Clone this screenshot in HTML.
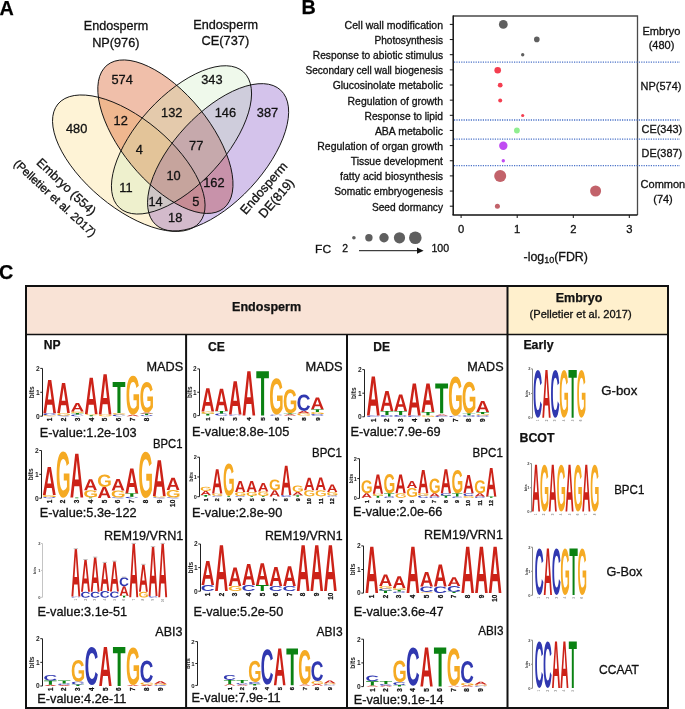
<!DOCTYPE html>
<html><head><meta charset="utf-8"><style>html,body{margin:0;padding:0;background:#fff;overflow:hidden}svg{display:block;will-change:transform}text{font-family:"Liberation Sans",sans-serif}text{stroke:#111;stroke-width:0.3px}text[font-weight]{stroke-width:0.25px}.n{stroke:none}.m{stroke-width:0.15px}</style></head><body>
<svg width="685" height="709" viewBox="0 0 685 709">
<defs>
<path id="gA" d="M0.7875 1 0.6965 0.7445H0.3057L0.2147 1H0L0.3741 0H0.6274L1 1ZM0.5007 0.154 0.4964 0.1696Q0.4891 0.1952 0.4789 0.2278Q0.4687 0.2605 0.3537 0.5869H0.6485L0.5473 0.2995L0.516 0.203Z"/>
<path id="gC" d="M0.531 0.84Q0.7304 0.84 0.8081 0.6552L1 0.7221Q0.938 0.8628 0.8181 0.9314Q0.6983 1 0.531 1Q0.2771 1 0.1385 0.8672Q0 0.7345 0 0.4959Q0 0.2566 0.1337 0.1283Q0.2674 0 0.5213 0Q0.7065 0 0.823 0.0686Q0.9395 0.1372 0.9866 0.2703L0.7924 0.3193Q0.7677 0.2462 0.6957 0.2031Q0.6236 0.16 0.5258 0.16Q0.3764 0.16 0.2991 0.2455Q0.2218 0.331 0.2218 0.4959Q0.2218 0.6634 0.3013 0.7517Q0.3809 0.84 0.531 0.84Z"/>
<path id="gG" d="M0.5224 0.8407Q0.6056 0.8407 0.6838 0.8176Q0.7619 0.7945 0.8046 0.7586V0.6241H0.5557V0.4738H1V0.831Q0.919 0.9103 0.7891 0.9552Q0.6592 1 0.5166 1Q0.2677 1 0.1339 0.8686Q0 0.7372 0 0.4959Q0 0.2559 0.1346 0.1279Q0.2692 0 0.5217 0Q0.8806 0 0.9783 0.2531L0.7815 0.3097Q0.7496 0.2359 0.6816 0.1979Q0.6136 0.16 0.5217 0.16Q0.3712 0.16 0.2931 0.2469Q0.2149 0.3338 0.2149 0.4959Q0.2149 0.6607 0.2956 0.7507Q0.3763 0.8407 0.5224 0.8407Z"/>
<path id="gT" d="M0.6219 0.1618V1H0.3773V0.1618H0V0H1V0.1618Z"/>
</defs>
<rect width="685" height="709" fill="#fff"/>
<text x="-0.50" y="14.70" font-size="19.80" font-weight="bold">A</text>
<text x="301.60" y="13.70" font-size="19.80" font-weight="bold">B</text>
<text x="-1.00" y="279.30" font-size="19.80" font-weight="bold">C</text>
<g>
<ellipse cx="0" cy="0" rx="92.30" ry="44.20" transform="translate(128.80 163.20) rotate(39.90)" fill="#FBCB54" fill-opacity="0.240"/>
<ellipse cx="0" cy="0" rx="92.30" ry="44.10" transform="translate(165.40 136.70) rotate(50.80)" fill="#D44B0D" fill-opacity="0.352"/>
<ellipse cx="0" cy="0" rx="91.80" ry="44.50" transform="translate(218.10 157.30) rotate(-47.00)" fill="#4A00AB" fill-opacity="0.237"/>
<ellipse cx="0" cy="0" rx="92.00" ry="44.10" transform="translate(181.50 139.90) rotate(-47.60)" fill="#C4EAB3" fill-opacity="0.266"/>
<ellipse cx="0" cy="0" rx="92.30" ry="44.20" transform="translate(128.80 163.20) rotate(39.90)" fill="none" stroke="#111" stroke-width="0.9"/>
<ellipse cx="0" cy="0" rx="92.30" ry="44.10" transform="translate(165.40 136.70) rotate(50.80)" fill="none" stroke="#111" stroke-width="0.9"/>
<ellipse cx="0" cy="0" rx="92.00" ry="44.10" transform="translate(181.50 139.90) rotate(-47.60)" fill="none" stroke="#111" stroke-width="0.9"/>
<ellipse cx="0" cy="0" rx="91.80" ry="44.50" transform="translate(218.10 157.30) rotate(-47.00)" fill="none" stroke="#111" stroke-width="0.9"/>
<text x="122.10" y="83.90" font-size="12.80" text-anchor="middle" fill="#111">574</text>
<text x="211.90" y="84.00" font-size="12.80" text-anchor="middle" fill="#111">343</text>
<text x="76.60" y="132.60" font-size="12.80" text-anchor="middle" fill="#111">480</text>
<text x="267.50" y="117.30" font-size="12.80" text-anchor="middle" fill="#111">387</text>
<text x="120.70" y="124.80" font-size="12.80" text-anchor="middle" fill="#111">12</text>
<text x="171.80" y="116.60" font-size="12.80" text-anchor="middle" fill="#111">132</text>
<text x="139.30" y="153.70" font-size="12.80" text-anchor="middle" fill="#111">4</text>
<text x="225.40" y="117.30" font-size="12.80" text-anchor="middle" fill="#111">146</text>
<text x="196.20" y="150.10" font-size="12.80" text-anchor="middle" fill="#111">77</text>
<text x="173.60" y="180.20" font-size="12.80" text-anchor="middle" fill="#111">10</text>
<text x="126.00" y="192.30" font-size="12.80" text-anchor="middle" fill="#111">11</text>
<text x="155.50" y="205.80" font-size="12.80" text-anchor="middle" fill="#111">14</text>
<text x="175.20" y="221.60" font-size="12.80" text-anchor="middle" fill="#111">18</text>
<text x="195.80" y="205.80" font-size="12.80" text-anchor="middle" fill="#111">5</text>
<text x="213.90" y="187.10" font-size="12.80" text-anchor="middle" fill="#111">162</text>
<text x="116.00" y="29.60" font-size="12.60" text-anchor="middle" textLength="64.3" lengthAdjust="spacingAndGlyphs" fill="#111">Endosperm</text>
<text x="115.80" y="46.60" font-size="12.60" text-anchor="middle" textLength="47.3" lengthAdjust="spacingAndGlyphs" fill="#111">NP(976)</text>
<text x="225.60" y="28.50" font-size="12.60" text-anchor="middle" textLength="64.8" lengthAdjust="spacingAndGlyphs" fill="#111">Endosperm</text>
<text x="225.40" y="45.00" font-size="12.60" text-anchor="middle" textLength="47.6" lengthAdjust="spacingAndGlyphs" fill="#111">CE(737)</text>
<g transform="translate(66.5 186.6) rotate(43.5)"><text x="0" y="4.4" font-size="12.6" text-anchor="middle" fill="#111">Embryo (554)</text></g>
<g transform="translate(55.1 198.0) rotate(42.8)"><text x="0" y="4.1" font-size="11.6" text-anchor="middle" fill="#111">(Pelletier et al. 2017)</text></g>
<g transform="translate(263.6 188.0) rotate(-49.0)"><text x="0" y="4.4" font-size="12.6" text-anchor="middle" fill="#111">Endosperm</text></g>
<g transform="translate(276.2 198.0) rotate(-49.5)"><text x="0" y="4.4" font-size="12.6" text-anchor="middle" fill="#111">DE(819)</text></g>
</g>
<g>
<text x="443.00" y="28.80" font-size="10.20" text-anchor="end" textLength="98.4" lengthAdjust="spacingAndGlyphs" fill="#111">Cell wall modification</text>
<line x1="449.8" y1="24.40" x2="453" y2="24.40" stroke="#111" stroke-width="1"/>
<text x="443.00" y="43.95" font-size="10.20" text-anchor="end" textLength="68.6" lengthAdjust="spacingAndGlyphs" fill="#111">Photosynthesis</text>
<line x1="449.8" y1="39.55" x2="453" y2="39.55" stroke="#111" stroke-width="1"/>
<text x="443.00" y="59.10" font-size="10.20" text-anchor="end" textLength="130.2" lengthAdjust="spacingAndGlyphs" fill="#111">Response to abiotic stimulus</text>
<line x1="449.8" y1="54.70" x2="453" y2="54.70" stroke="#111" stroke-width="1"/>
<text x="443.00" y="74.25" font-size="10.20" text-anchor="end" textLength="137.6" lengthAdjust="spacingAndGlyphs" fill="#111">Secondary cell wall biogenesis</text>
<line x1="449.8" y1="69.85" x2="453" y2="69.85" stroke="#111" stroke-width="1"/>
<text x="443.00" y="89.40" font-size="10.20" text-anchor="end" textLength="110.3" lengthAdjust="spacingAndGlyphs" fill="#111">Glucosinolate metabolic</text>
<line x1="449.8" y1="85.00" x2="453" y2="85.00" stroke="#111" stroke-width="1"/>
<text x="443.00" y="104.55" font-size="10.20" text-anchor="end" textLength="95.4" lengthAdjust="spacingAndGlyphs" fill="#111">Regulation of growth</text>
<line x1="449.8" y1="100.15" x2="453" y2="100.15" stroke="#111" stroke-width="1"/>
<text x="443.00" y="119.70" font-size="10.20" text-anchor="end" textLength="78.5" lengthAdjust="spacingAndGlyphs" fill="#111">Response to lipid</text>
<line x1="449.8" y1="115.30" x2="453" y2="115.30" stroke="#111" stroke-width="1"/>
<text x="443.00" y="134.85" font-size="10.20" text-anchor="end" textLength="68.1" lengthAdjust="spacingAndGlyphs" fill="#111">ABA metabolic</text>
<line x1="449.8" y1="130.45" x2="453" y2="130.45" stroke="#111" stroke-width="1"/>
<text x="443.00" y="150.00" font-size="10.20" text-anchor="end" textLength="125.7" lengthAdjust="spacingAndGlyphs" fill="#111">Regulation of organ growth</text>
<line x1="449.8" y1="145.60" x2="453" y2="145.60" stroke="#111" stroke-width="1"/>
<text x="443.00" y="165.15" font-size="10.20" text-anchor="end" textLength="92.2" lengthAdjust="spacingAndGlyphs" fill="#111">Tissue development</text>
<line x1="449.8" y1="160.75" x2="453" y2="160.75" stroke="#111" stroke-width="1"/>
<text x="443.00" y="180.30" font-size="10.20" text-anchor="end" textLength="102.9" lengthAdjust="spacingAndGlyphs" fill="#111">fatty acid biosynthesis</text>
<line x1="449.8" y1="175.90" x2="453" y2="175.90" stroke="#111" stroke-width="1"/>
<text x="443.00" y="195.45" font-size="10.20" text-anchor="end" textLength="108.8" lengthAdjust="spacingAndGlyphs" fill="#111">Somatic embryogenesis</text>
<line x1="449.8" y1="191.05" x2="453" y2="191.05" stroke="#111" stroke-width="1"/>
<text x="443.00" y="210.60" font-size="10.20" text-anchor="end" textLength="71.1" lengthAdjust="spacingAndGlyphs" fill="#111">Seed dormancy</text>
<line x1="449.8" y1="206.20" x2="453" y2="206.20" stroke="#111" stroke-width="1"/>
<path d="M453 16 H637.5 V215" fill="none" stroke="#4A4A4A" stroke-width="1.3"/>
<line x1="453.2" y1="15.5" x2="453.2" y2="215" stroke="#111" stroke-width="1.5"/>
<line x1="452.5" y1="215.0" x2="637.5" y2="215.0" stroke="#111" stroke-width="1.7"/>
<line x1="461.1" y1="215" x2="461.1" y2="218" stroke="#111" stroke-width="1"/>
<text x="461.10" y="232.50" font-size="11.20" text-anchor="middle" fill="#111">0</text>
<line x1="517.2" y1="215" x2="517.2" y2="218" stroke="#111" stroke-width="1"/>
<text x="517.20" y="232.50" font-size="11.20" text-anchor="middle" fill="#111">1</text>
<line x1="573.3" y1="215" x2="573.3" y2="218" stroke="#111" stroke-width="1"/>
<text x="573.30" y="232.50" font-size="11.20" text-anchor="middle" fill="#111">2</text>
<line x1="629.3" y1="215" x2="629.3" y2="218" stroke="#111" stroke-width="1"/>
<text x="629.30" y="232.50" font-size="11.20" text-anchor="middle" fill="#111">3</text>
<text x="523.5" y="260.5" font-size="12.4" fill="#111">-log<tspan font-size="9" dy="2">10</tspan><tspan dy="-2">(FDR)</tspan></text>
<line x1="454" y1="62.1" x2="680" y2="62.1" stroke="#4A72C8" stroke-width="1.3" stroke-dasharray="1.2 1.2"/>
<line x1="454" y1="120.0" x2="680" y2="120.0" stroke="#4A72C8" stroke-width="1.3" stroke-dasharray="1.2 1.2"/>
<line x1="454" y1="139.1" x2="680" y2="139.1" stroke="#4A72C8" stroke-width="1.3" stroke-dasharray="1.2 1.2"/>
<line x1="454" y1="165.7" x2="680" y2="165.7" stroke="#4A72C8" stroke-width="1.3" stroke-dasharray="1.2 1.2"/>
<circle cx="503.3" cy="24.4" r="4.4" fill="#5F5F5F"/>
<circle cx="536.8" cy="39.4" r="2.8" fill="#5F5F5F"/>
<circle cx="522.7" cy="54.7" r="1.7" fill="#5F5F5F"/>
<circle cx="497.7" cy="70.2" r="3.3" fill="#F43E50"/>
<circle cx="500.2" cy="85.2" r="2.4" fill="#F43E50"/>
<circle cx="500.2" cy="100.4" r="2.0" fill="#F43E50"/>
<circle cx="522.7" cy="115.5" r="1.6" fill="#F43E50"/>
<circle cx="516.9" cy="130.5" r="2.9" fill="#90EE90"/>
<circle cx="503.3" cy="145.8" r="4.2" fill="#C04CF2"/>
<circle cx="503.3" cy="160.7" r="1.7" fill="#C04CF2"/>
<circle cx="500.2" cy="176.0" r="6.0" fill="#C2626A"/>
<circle cx="595.6" cy="191.0" r="5.5" fill="#C2626A"/>
<circle cx="497.4" cy="206.2" r="2.5" fill="#C2626A"/>
<text x="661.50" y="34.90" font-size="11.00" text-anchor="middle" textLength="38.0" lengthAdjust="spacingAndGlyphs" fill="#111">Embryo</text>
<text x="661.50" y="49.00" font-size="11.00" text-anchor="middle" fill="#111">(480)</text>
<text x="661.00" y="90.00" font-size="11.00" text-anchor="middle" textLength="40.8" lengthAdjust="spacingAndGlyphs" fill="#111">NP(574)</text>
<text x="661.90" y="132.90" font-size="11.00" text-anchor="middle" textLength="40.6" lengthAdjust="spacingAndGlyphs" fill="#111">CE(343)</text>
<text x="661.90" y="157.40" font-size="11.00" text-anchor="middle" textLength="40.6" lengthAdjust="spacingAndGlyphs" fill="#111">DE(387)</text>
<text x="640.60" y="188.40" font-size="11.00" fill="#111">Common</text>
<text x="663.00" y="203.10" font-size="11.00" text-anchor="middle" fill="#111">(74)</text>
<text x="315.10" y="252.70" font-size="11.60" textLength="16.0" lengthAdjust="spacingAndGlyphs" fill="#111">FC</text>
<text x="345.20" y="252.20" font-size="10.40" text-anchor="middle" fill="#111">2</text>
<circle cx="353.9" cy="237.8" r="1.8" fill="#5F5F5F"/>
<circle cx="368.9" cy="237.8" r="3.7" fill="#5F5F5F"/>
<circle cx="384.0" cy="237.8" r="4.7" fill="#5F5F5F"/>
<circle cx="399.5" cy="237.8" r="5.6" fill="#5F5F5F"/>
<circle cx="415.3" cy="237.8" r="6.3" fill="#5F5F5F"/>
<line x1="359" y1="250.7" x2="418" y2="250.7" stroke="#111" stroke-width="1"/>
<path d="M417 247.6 L423.6 250.7 L417 253.8 Z" fill="#111"/>
<text x="440.30" y="252.20" font-size="10.60" text-anchor="middle" fill="#111">100</text>
</g>
<rect x="26" y="286" width="481.5" height="48.5" fill="#F9E3D6"/>
<rect x="507.5" y="286" width="160.5" height="48.5" fill="#FFF0CD"/>
<g stroke="#111" fill="none">
<rect x="26" y="286" width="642" height="422" stroke-width="2"/>
<line x1="25" y1="334.5" x2="669" y2="334.5" stroke-width="1.6"/>
<line x1="186.1" y1="334.5" x2="186.1" y2="709" stroke-width="2"/>
<line x1="347" y1="334.5" x2="347" y2="709" stroke-width="2"/>
<line x1="507.5" y1="286" x2="507.5" y2="709" stroke-width="2"/>
</g>
<text x="232.00" y="311.00" font-size="12.60" font-weight="bold" textLength="69.2" lengthAdjust="spacingAndGlyphs" fill="#111">Endosperm</text>
<text x="579.00" y="301.80" font-size="12.60" text-anchor="middle" font-weight="bold" textLength="46.7" lengthAdjust="spacingAndGlyphs" fill="#111">Embryo</text>
<text x="580.60" y="317.90" font-size="10.40" text-anchor="middle" textLength="102.0" lengthAdjust="spacingAndGlyphs" fill="#111">(Pelletier et al. 2017)</text>
<text x="43.80" y="349.20" font-size="12.80" font-weight="bold" textLength="16.8" lengthAdjust="spacingAndGlyphs" fill="#111">NP</text>
<text x="208.00" y="350.50" font-size="12.80" font-weight="bold" textLength="16.9" lengthAdjust="spacingAndGlyphs" fill="#111">CE</text>
<text x="373.20" y="350.50" font-size="12.80" font-weight="bold" textLength="16.8" lengthAdjust="spacingAndGlyphs" fill="#111">DE</text>
<text x="523.40" y="349.30" font-size="12.80" font-weight="bold" textLength="30.2" lengthAdjust="spacingAndGlyphs" fill="#111">Early</text>
<text x="519.50" y="441.50" font-size="12.80" font-weight="bold" textLength="35.0" lengthAdjust="spacingAndGlyphs" fill="#111">BCOT</text>
<text x="146.50" y="370.80" font-size="12.20" textLength="36.7" lengthAdjust="spacingAndGlyphs" fill="#111">MADS</text>
<text x="305.50" y="371.00" font-size="12.20" textLength="37.1" lengthAdjust="spacingAndGlyphs" fill="#111">MADS</text>
<text x="467.20" y="371.00" font-size="12.20" textLength="36.4" lengthAdjust="spacingAndGlyphs" fill="#111">MADS</text>
<text x="153.00" y="448.00" font-size="12.20" textLength="29.5" lengthAdjust="spacingAndGlyphs" fill="#111">BPC1</text>
<text x="312.00" y="456.80" font-size="12.20" textLength="29.9" lengthAdjust="spacingAndGlyphs" fill="#111">BPC1</text>
<text x="472.60" y="456.80" font-size="12.20" textLength="30.3" lengthAdjust="spacingAndGlyphs" fill="#111">BPC1</text>
<text x="104.00" y="539.80" font-size="12.90" textLength="79.3" lengthAdjust="spacingAndGlyphs" fill="#111">REM19/VRN1</text>
<text x="264.90" y="539.80" font-size="12.90" textLength="77.7" lengthAdjust="spacingAndGlyphs" fill="#111">REM19/VRN1</text>
<text x="424.00" y="539.00" font-size="12.90" textLength="78.9" lengthAdjust="spacingAndGlyphs" fill="#111">REM19/VRN1</text>
<text x="155.30" y="635.80" font-size="12.20" textLength="27.2" lengthAdjust="spacingAndGlyphs" fill="#111">ABI3</text>
<text x="316.60" y="635.80" font-size="12.20" textLength="26.0" lengthAdjust="spacingAndGlyphs" fill="#111">ABI3</text>
<text x="478.30" y="635.20" font-size="12.20" textLength="25.3" lengthAdjust="spacingAndGlyphs" fill="#111">ABI3</text>
<text x="601.30" y="394.80" font-size="12.20" textLength="36.0" lengthAdjust="spacingAndGlyphs" fill="#111">G-box</text>
<text x="614.20" y="493.70" font-size="12.20" textLength="30.1" lengthAdjust="spacingAndGlyphs" fill="#111">BPC1</text>
<text x="606.50" y="575.50" font-size="12.20" textLength="35.9" lengthAdjust="spacingAndGlyphs" fill="#111">G-Box</text>
<text x="599.00" y="673.60" font-size="12.20" textLength="39.9" lengthAdjust="spacingAndGlyphs" fill="#111">CCAAT</text>
<text x="39.70" y="436.80" font-size="12.40" textLength="96.9" lengthAdjust="spacingAndGlyphs" fill="#111">E-value:1.2e-103</text>
<text x="192.10" y="435.90" font-size="12.40" textLength="97.2" lengthAdjust="spacingAndGlyphs" fill="#111">E-value:8.8e-105</text>
<text x="350.50" y="436.00" font-size="12.40" textLength="90.1" lengthAdjust="spacingAndGlyphs" fill="#111">E-value:7.9e-69</text>
<text x="39.70" y="517.10" font-size="12.40" textLength="96.9" lengthAdjust="spacingAndGlyphs" fill="#111">E-value:5.3e-122</text>
<text x="192.10" y="516.60" font-size="12.40" textLength="90.2" lengthAdjust="spacingAndGlyphs" fill="#111">E-value:2.8e-90</text>
<text x="353.10" y="515.70" font-size="12.40" textLength="89.1" lengthAdjust="spacingAndGlyphs" fill="#111">E-value:2.0e-66</text>
<text x="37.40" y="616.40" font-size="12.40" textLength="89.8" lengthAdjust="spacingAndGlyphs" fill="#111">E-value:3.1e-51</text>
<text x="193.50" y="616.00" font-size="12.40" textLength="89.7" lengthAdjust="spacingAndGlyphs" fill="#111">E-value:5.2e-50</text>
<text x="353.70" y="616.10" font-size="12.40" textLength="89.9" lengthAdjust="spacingAndGlyphs" fill="#111">E-value:3.6e-47</text>
<text x="37.30" y="703.40" font-size="12.40" textLength="89.1" lengthAdjust="spacingAndGlyphs" fill="#111">E-value:4.2e-11</text>
<text x="191.60" y="702.10" font-size="12.40" textLength="89.1" lengthAdjust="spacingAndGlyphs" fill="#111">E-value:7.9e-11</text>
<text x="353.70" y="703.60" font-size="12.40" textLength="89.9" lengthAdjust="spacingAndGlyphs" fill="#111">E-value:9.1e-14</text>
<line x1="42.50" y1="368.40" x2="42.50" y2="416.20" stroke="#222" stroke-width="1.00"/>
<line x1="40.30" y1="368.40" x2="42.50" y2="368.40" stroke="#222" stroke-width="1.00"/>
<text class="n" x="39.70" y="370.80" font-size="6.7" font-weight="bold" text-anchor="end" fill="#222">2</text>
<line x1="40.30" y1="392.30" x2="42.50" y2="392.30" stroke="#222" stroke-width="1.00"/>
<text class="n" x="39.70" y="394.70" font-size="6.7" font-weight="bold" text-anchor="end" fill="#222">1</text>
<line x1="40.30" y1="416.20" x2="42.50" y2="416.20" stroke="#222" stroke-width="1.00"/>
<text class="n" x="39.70" y="418.60" font-size="6.7" font-weight="bold" text-anchor="end" fill="#222">0</text>
<text class="n" transform="translate(34.23 392.30) rotate(-90)" font-size="6.7" font-weight="bold" text-anchor="middle" fill="#222">bits</text>
<use href="#gC" transform="translate(43.40 413.30) scale(12.600 1.900)" fill="#3038B0"/>
<use href="#gG" transform="translate(43.40 415.20) scale(12.600 1.000)" fill="#F5AA23"/>
<use href="#gA" transform="translate(43.40 380.10) scale(12.600 33.200)" fill="#CC2218"/>
<text class="m" transform="translate(51.99 417.80) rotate(-90)" font-size="6.4" font-weight="bold" text-anchor="end" fill="#111">1</text>
<use href="#gG" transform="translate(57.25 413.00) scale(12.600 2.500)" fill="#F5AA23"/>
<use href="#gC" transform="translate(57.25 415.50) scale(12.600 0.700)" fill="#3038B0"/>
<use href="#gA" transform="translate(57.25 383.10) scale(12.600 29.900)" fill="#CC2218"/>
<text class="m" transform="translate(65.84 417.80) rotate(-90)" font-size="6.4" font-weight="bold" text-anchor="end" fill="#111">2</text>
<use href="#gC" transform="translate(71.10 414.60) scale(12.600 1.600)" fill="#3038B0"/>
<use href="#gT" transform="translate(71.10 413.00) scale(12.600 1.600)" fill="#0A8212"/>
<use href="#gG" transform="translate(71.10 411.40) scale(12.600 1.600)" fill="#F5AA23"/>
<use href="#gA" transform="translate(71.10 403.00) scale(12.600 8.400)" fill="#CC2218"/>
<text class="m" transform="translate(79.69 417.80) rotate(-90)" font-size="6.4" font-weight="bold" text-anchor="end" fill="#111">3</text>
<use href="#gG" transform="translate(84.95 414.00) scale(12.600 1.200)" fill="#F5AA23"/>
<use href="#gT" transform="translate(84.95 415.20) scale(12.600 1.000)" fill="#0A8212"/>
<use href="#gA" transform="translate(84.95 377.80) scale(12.600 36.200)" fill="#CC2218"/>
<text class="m" transform="translate(93.54 417.80) rotate(-90)" font-size="6.4" font-weight="bold" text-anchor="end" fill="#111">4</text>
<use href="#gG" transform="translate(98.80 414.60) scale(12.600 1.600)" fill="#F5AA23"/>
<use href="#gA" transform="translate(98.80 374.20) scale(12.600 40.400)" fill="#CC2218"/>
<text class="m" transform="translate(107.39 417.80) rotate(-90)" font-size="6.4" font-weight="bold" text-anchor="end" fill="#111">5</text>
<use href="#gC" transform="translate(112.65 414.60) scale(12.600 1.600)" fill="#3038B0"/>
<use href="#gG" transform="translate(112.65 413.00) scale(12.600 1.600)" fill="#F5AA23"/>
<use href="#gT" transform="translate(112.65 382.00) scale(12.600 31.000)" fill="#0A8212"/>
<text class="m" transform="translate(121.24 417.80) rotate(-90)" font-size="6.4" font-weight="bold" text-anchor="end" fill="#111">6</text>
<use href="#gA" transform="translate(126.50 414.80) scale(12.600 1.400)" fill="#CC2218"/>
<use href="#gG" transform="translate(126.50 375.80) scale(12.600 39.000)" fill="#F5AA23"/>
<text class="m" transform="translate(135.09 417.80) rotate(-90)" font-size="6.4" font-weight="bold" text-anchor="end" fill="#111">7</text>
<use href="#gC" transform="translate(140.35 415.00) scale(12.600 1.200)" fill="#3038B0"/>
<use href="#gT" transform="translate(140.35 413.40) scale(12.600 1.600)" fill="#0A8212"/>
<use href="#gA" transform="translate(140.35 412.50) scale(12.600 0.900)" fill="#CC2218"/>
<use href="#gG" transform="translate(140.35 382.00) scale(12.600 30.500)" fill="#F5AA23"/>
<text class="m" transform="translate(148.94 417.80) rotate(-90)" font-size="6.4" font-weight="bold" text-anchor="end" fill="#111">8</text>
<line x1="41.50" y1="450.50" x2="41.50" y2="498.20" stroke="#222" stroke-width="1.00"/>
<line x1="39.30" y1="450.50" x2="41.50" y2="450.50" stroke="#222" stroke-width="1.00"/>
<text class="n" x="38.70" y="452.90" font-size="6.7" font-weight="bold" text-anchor="end" fill="#222">2</text>
<line x1="39.30" y1="474.35" x2="41.50" y2="474.35" stroke="#222" stroke-width="1.00"/>
<text class="n" x="38.70" y="476.75" font-size="6.7" font-weight="bold" text-anchor="end" fill="#222">1</text>
<line x1="39.30" y1="498.20" x2="41.50" y2="498.20" stroke="#222" stroke-width="1.00"/>
<text class="n" x="38.70" y="500.60" font-size="6.7" font-weight="bold" text-anchor="end" fill="#222">0</text>
<text class="n" transform="translate(33.25 474.35) rotate(-90)" font-size="6.7" font-weight="bold" text-anchor="middle" fill="#222">bits</text>
<use href="#gC" transform="translate(42.90 497.00) scale(12.800 1.200)" fill="#3038B0"/>
<use href="#gG" transform="translate(42.90 495.10) scale(12.800 1.900)" fill="#F5AA23"/>
<use href="#gA" transform="translate(42.90 467.00) scale(12.800 28.100)" fill="#CC2218"/>
<text class="m" transform="translate(51.59 499.80) rotate(-90)" font-size="6.4" font-weight="bold" text-anchor="end" fill="#111">1</text>
<use href="#gG" transform="translate(56.65 451.60) scale(12.800 46.200)" fill="#F5AA23"/>
<text class="m" transform="translate(65.34 499.80) rotate(-90)" font-size="6.4" font-weight="bold" text-anchor="end" fill="#111">2</text>
<use href="#gT" transform="translate(70.40 497.50) scale(12.800 0.700)" fill="#0A8212"/>
<use href="#gA" transform="translate(70.40 453.70) scale(12.800 43.800)" fill="#CC2218"/>
<text class="m" transform="translate(79.09 499.80) rotate(-90)" font-size="6.4" font-weight="bold" text-anchor="end" fill="#111">3</text>
<use href="#gT" transform="translate(84.15 497.40) scale(12.800 0.800)" fill="#0A8212"/>
<use href="#gG" transform="translate(84.15 490.20) scale(12.800 7.200)" fill="#F5AA23"/>
<use href="#gA" transform="translate(84.15 479.20) scale(12.800 11.000)" fill="#CC2218"/>
<text class="m" transform="translate(92.84 499.80) rotate(-90)" font-size="6.4" font-weight="bold" text-anchor="end" fill="#111">4</text>
<use href="#gA" transform="translate(97.90 486.90) scale(12.800 11.200)" fill="#CC2218"/>
<use href="#gG" transform="translate(97.90 474.60) scale(12.800 12.300)" fill="#F5AA23"/>
<text class="m" transform="translate(106.59 499.80) rotate(-90)" font-size="6.4" font-weight="bold" text-anchor="end" fill="#111">5</text>
<use href="#gC" transform="translate(111.65 497.50) scale(12.800 0.700)" fill="#3038B0"/>
<use href="#gG" transform="translate(111.65 490.40) scale(12.800 7.100)" fill="#F5AA23"/>
<use href="#gA" transform="translate(111.65 478.90) scale(12.800 11.500)" fill="#CC2218"/>
<text class="m" transform="translate(120.34 499.80) rotate(-90)" font-size="6.4" font-weight="bold" text-anchor="end" fill="#111">6</text>
<use href="#gC" transform="translate(125.40 496.80) scale(12.800 1.400)" fill="#3038B0"/>
<use href="#gT" transform="translate(125.40 493.20) scale(12.800 3.600)" fill="#0A8212"/>
<use href="#gA" transform="translate(125.40 468.50) scale(12.800 24.700)" fill="#CC2218"/>
<text class="m" transform="translate(134.09 499.80) rotate(-90)" font-size="6.4" font-weight="bold" text-anchor="end" fill="#111">7</text>
<use href="#gG" transform="translate(139.15 451.80) scale(12.800 46.300)" fill="#F5AA23"/>
<text class="m" transform="translate(147.84 499.80) rotate(-90)" font-size="6.4" font-weight="bold" text-anchor="end" fill="#111">8</text>
<use href="#gC" transform="translate(152.90 497.30) scale(12.800 0.900)" fill="#3038B0"/>
<use href="#gG" transform="translate(152.90 495.90) scale(12.800 1.400)" fill="#F5AA23"/>
<use href="#gA" transform="translate(152.90 460.30) scale(12.800 35.600)" fill="#CC2218"/>
<text class="m" transform="translate(161.59 499.80) rotate(-90)" font-size="6.4" font-weight="bold" text-anchor="end" fill="#111">9</text>
<use href="#gC" transform="translate(166.65 497.50) scale(12.800 0.700)" fill="#3038B0"/>
<use href="#gG" transform="translate(166.65 489.90) scale(12.800 7.600)" fill="#F5AA23"/>
<use href="#gA" transform="translate(166.65 477.80) scale(12.800 12.100)" fill="#CC2218"/>
<text class="m" transform="translate(175.34 499.80) rotate(-90)" font-size="6.4" font-weight="bold" text-anchor="end" fill="#111">10</text>
<line x1="42.50" y1="543.50" x2="42.50" y2="597.30" stroke="#C4C4C4" stroke-width="1.00"/>
<line x1="41.00" y1="543.50" x2="42.50" y2="543.50" stroke="#C4C4C4" stroke-width="1.00"/>
<text class="n" x="40.40" y="544.94" font-size="4.0" font-weight="bold" text-anchor="end" fill="#444">2</text>
<line x1="41.00" y1="570.40" x2="42.50" y2="570.40" stroke="#C4C4C4" stroke-width="1.00"/>
<text class="n" x="40.40" y="571.84" font-size="4.0" font-weight="bold" text-anchor="end" fill="#444">1</text>
<line x1="41.00" y1="597.30" x2="42.50" y2="597.30" stroke="#C4C4C4" stroke-width="1.00"/>
<text class="n" x="40.40" y="598.74" font-size="4.0" font-weight="bold" text-anchor="end" fill="#444">0</text>
<text class="n" transform="translate(36.20 570.40) rotate(-90)" font-size="4.0" font-weight="bold" text-anchor="middle" fill="#333">bits</text>
<use href="#gC" transform="translate(71.40 596.60) scale(8.900 1.000)" fill="#3038B0"/>
<use href="#gA" transform="translate(71.40 548.90) scale(8.900 47.700)" fill="#CC2218"/>
<line x1="73.65" y1="548.70" x2="78.05" y2="548.70" stroke="#BDBDBD" stroke-width="0.9"/>
<text class="n" transform="translate(76.93 598.90) rotate(-90)" font-size="3.0" font-weight="bold" text-anchor="end" fill="#888">1</text>
<use href="#gC" transform="translate(81.05 591.80) scale(8.900 5.900)" fill="#3038B0"/>
<use href="#gA" transform="translate(81.05 559.70) scale(8.900 32.100)" fill="#CC2218"/>
<line x1="83.30" y1="559.50" x2="87.70" y2="559.50" stroke="#BDBDBD" stroke-width="0.9"/>
<text class="n" transform="translate(86.58 598.90) rotate(-90)" font-size="3.0" font-weight="bold" text-anchor="end" fill="#888">2</text>
<use href="#gC" transform="translate(90.70 591.80) scale(8.900 5.900)" fill="#3038B0"/>
<use href="#gA" transform="translate(90.70 557.30) scale(8.900 34.500)" fill="#CC2218"/>
<line x1="92.95" y1="557.10" x2="97.35" y2="557.10" stroke="#BDBDBD" stroke-width="0.9"/>
<text class="n" transform="translate(96.23 598.90) rotate(-90)" font-size="3.0" font-weight="bold" text-anchor="end" fill="#888">3</text>
<use href="#gC" transform="translate(100.35 591.00) scale(8.900 6.700)" fill="#3038B0"/>
<use href="#gA" transform="translate(100.35 562.60) scale(8.900 28.400)" fill="#CC2218"/>
<line x1="102.60" y1="562.40" x2="107.00" y2="562.40" stroke="#BDBDBD" stroke-width="0.9"/>
<text class="n" transform="translate(105.88 598.90) rotate(-90)" font-size="3.0" font-weight="bold" text-anchor="end" fill="#888">4</text>
<use href="#gC" transform="translate(110.00 591.60) scale(8.900 6.100)" fill="#3038B0"/>
<use href="#gA" transform="translate(110.00 561.30) scale(8.900 30.300)" fill="#CC2218"/>
<line x1="112.25" y1="561.10" x2="116.65" y2="561.10" stroke="#BDBDBD" stroke-width="0.9"/>
<text class="n" transform="translate(115.53 598.90) rotate(-90)" font-size="3.0" font-weight="bold" text-anchor="end" fill="#888">5</text>
<use href="#gT" transform="translate(119.65 595.80) scale(8.900 1.800)" fill="#0A8212"/>
<use href="#gA" transform="translate(119.65 586.20) scale(8.900 9.600)" fill="#CC2218"/>
<use href="#gC" transform="translate(119.65 577.30) scale(8.900 8.900)" fill="#3038B0"/>
<line x1="121.90" y1="577.10" x2="126.30" y2="577.10" stroke="#BDBDBD" stroke-width="0.9"/>
<text class="n" transform="translate(125.18 598.90) rotate(-90)" font-size="3.0" font-weight="bold" text-anchor="end" fill="#888">6</text>
<use href="#gA" transform="translate(129.30 543.60) scale(8.900 53.600)" fill="#CC2218"/>
<line x1="131.55" y1="543.40" x2="135.95" y2="543.40" stroke="#BDBDBD" stroke-width="0.9"/>
<text class="n" transform="translate(134.83 598.90) rotate(-90)" font-size="3.0" font-weight="bold" text-anchor="end" fill="#888">7</text>
<use href="#gG" transform="translate(138.95 591.80) scale(8.900 5.600)" fill="#F5AA23"/>
<use href="#gA" transform="translate(138.95 564.50) scale(8.900 27.300)" fill="#CC2218"/>
<line x1="141.20" y1="564.30" x2="145.60" y2="564.30" stroke="#BDBDBD" stroke-width="0.9"/>
<text class="n" transform="translate(144.48 598.90) rotate(-90)" font-size="3.0" font-weight="bold" text-anchor="end" fill="#888">8</text>
<use href="#gC" transform="translate(148.60 596.00) scale(8.900 1.400)" fill="#3038B0"/>
<use href="#gA" transform="translate(148.60 546.80) scale(8.900 49.200)" fill="#CC2218"/>
<line x1="150.85" y1="546.60" x2="155.25" y2="546.60" stroke="#BDBDBD" stroke-width="0.9"/>
<text class="n" transform="translate(154.13 598.90) rotate(-90)" font-size="3.0" font-weight="bold" text-anchor="end" fill="#888">9</text>
<use href="#gA" transform="translate(158.25 543.60) scale(8.900 53.600)" fill="#CC2218"/>
<line x1="160.50" y1="543.40" x2="164.90" y2="543.40" stroke="#BDBDBD" stroke-width="0.9"/>
<text class="n" transform="translate(163.78 598.90) rotate(-90)" font-size="3.0" font-weight="bold" text-anchor="end" fill="#888">10</text>
<line x1="42.50" y1="638.70" x2="42.50" y2="686.00" stroke="#222" stroke-width="1.00"/>
<line x1="40.30" y1="638.70" x2="42.50" y2="638.70" stroke="#222" stroke-width="1.00"/>
<text class="n" x="39.70" y="641.08" font-size="6.6" font-weight="bold" text-anchor="end" fill="#222">2</text>
<line x1="40.30" y1="662.35" x2="42.50" y2="662.35" stroke="#222" stroke-width="1.00"/>
<text class="n" x="39.70" y="664.73" font-size="6.6" font-weight="bold" text-anchor="end" fill="#222">1</text>
<line x1="40.30" y1="686.00" x2="42.50" y2="686.00" stroke="#222" stroke-width="1.00"/>
<text class="n" x="39.70" y="688.38" font-size="6.6" font-weight="bold" text-anchor="end" fill="#222">0</text>
<text class="n" transform="translate(34.32 662.35) rotate(-90)" font-size="6.6" font-weight="bold" text-anchor="middle" fill="#222">bits</text>
<use href="#gA" transform="translate(44.20 684.80) scale(12.400 1.200)" fill="#CC2218"/>
<use href="#gT" transform="translate(44.20 680.60) scale(12.400 4.200)" fill="#0A8212"/>
<use href="#gC" transform="translate(44.20 674.90) scale(12.400 5.700)" fill="#3038B0"/>
<text class="m" transform="translate(52.67 687.60) rotate(-90)" font-size="6.3" font-weight="bold" text-anchor="end" fill="#111">1</text>
<use href="#gA" transform="translate(57.95 685.00) scale(12.400 1.000)" fill="#CC2218"/>
<use href="#gC" transform="translate(57.95 683.50) scale(12.400 1.500)" fill="#3038B0"/>
<use href="#gT" transform="translate(57.95 680.40) scale(12.400 3.100)" fill="#0A8212"/>
<text class="m" transform="translate(66.42 687.60) rotate(-90)" font-size="6.3" font-weight="bold" text-anchor="end" fill="#111">2</text>
<use href="#gT" transform="translate(71.70 684.50) scale(12.400 1.500)" fill="#0A8212"/>
<use href="#gC" transform="translate(71.70 681.60) scale(12.400 2.900)" fill="#3038B0"/>
<use href="#gG" transform="translate(71.70 659.90) scale(12.400 21.700)" fill="#F5AA23"/>
<text class="m" transform="translate(80.17 687.60) rotate(-90)" font-size="6.3" font-weight="bold" text-anchor="end" fill="#111">3</text>
<use href="#gC" transform="translate(85.45 646.90) scale(12.400 38.200)" fill="#3038B0"/>
<text class="m" transform="translate(93.92 687.60) rotate(-90)" font-size="6.3" font-weight="bold" text-anchor="end" fill="#111">4</text>
<use href="#gA" transform="translate(99.20 646.90) scale(12.400 39.100)" fill="#CC2218"/>
<text class="m" transform="translate(107.67 687.60) rotate(-90)" font-size="6.3" font-weight="bold" text-anchor="end" fill="#111">5</text>
<use href="#gT" transform="translate(112.95 646.90) scale(12.400 39.100)" fill="#0A8212"/>
<text class="m" transform="translate(121.42 687.60) rotate(-90)" font-size="6.3" font-weight="bold" text-anchor="end" fill="#111">6</text>
<use href="#gA" transform="translate(126.70 685.10) scale(12.400 0.900)" fill="#CC2218"/>
<use href="#gG" transform="translate(126.70 647.60) scale(12.400 37.500)" fill="#F5AA23"/>
<text class="m" transform="translate(135.17 687.60) rotate(-90)" font-size="6.3" font-weight="bold" text-anchor="end" fill="#111">7</text>
<use href="#gA" transform="translate(140.45 684.70) scale(12.400 1.300)" fill="#CC2218"/>
<use href="#gG" transform="translate(140.45 682.40) scale(12.400 2.300)" fill="#F5AA23"/>
<use href="#gC" transform="translate(140.45 660.50) scale(12.400 21.900)" fill="#3038B0"/>
<text class="m" transform="translate(148.92 687.60) rotate(-90)" font-size="6.3" font-weight="bold" text-anchor="end" fill="#111">8</text>
<use href="#gC" transform="translate(154.20 685.00) scale(12.400 1.000)" fill="#3038B0"/>
<use href="#gG" transform="translate(154.20 683.80) scale(12.400 1.200)" fill="#F5AA23"/>
<use href="#gA" transform="translate(154.20 681.20) scale(12.400 2.600)" fill="#CC2218"/>
<text class="m" transform="translate(162.67 687.60) rotate(-90)" font-size="6.3" font-weight="bold" text-anchor="end" fill="#111">9</text>
<line x1="199.50" y1="368.90" x2="199.50" y2="415.60" stroke="#222" stroke-width="1.00"/>
<line x1="197.30" y1="368.90" x2="199.50" y2="368.90" stroke="#222" stroke-width="1.00"/>
<text class="n" x="196.70" y="371.25" font-size="6.5" font-weight="bold" text-anchor="end" fill="#222">2</text>
<line x1="197.30" y1="392.25" x2="199.50" y2="392.25" stroke="#222" stroke-width="1.00"/>
<text class="n" x="196.70" y="394.60" font-size="6.5" font-weight="bold" text-anchor="end" fill="#222">1</text>
<line x1="197.30" y1="415.60" x2="199.50" y2="415.60" stroke="#222" stroke-width="1.00"/>
<text class="n" x="196.70" y="417.95" font-size="6.5" font-weight="bold" text-anchor="end" fill="#222">0</text>
<text class="n" transform="translate(192.30 392.25) rotate(-90)" font-size="6.5" font-weight="bold" text-anchor="middle" fill="#222">bits</text>
<use href="#gT" transform="translate(201.50 413.80) scale(12.600 1.800)" fill="#0A8212"/>
<use href="#gG" transform="translate(201.50 411.60) scale(12.600 2.200)" fill="#F5AA23"/>
<use href="#gA" transform="translate(201.50 388.30) scale(12.600 23.300)" fill="#CC2218"/>
<text class="m" transform="translate(210.04 417.20) rotate(-90)" font-size="6.2" font-weight="bold" text-anchor="end" fill="#111">1</text>
<use href="#gC" transform="translate(215.20 413.60) scale(12.600 2.000)" fill="#3038B0"/>
<use href="#gT" transform="translate(215.20 410.90) scale(12.600 2.700)" fill="#0A8212"/>
<use href="#gA" transform="translate(215.20 388.70) scale(12.600 22.200)" fill="#CC2218"/>
<text class="m" transform="translate(223.74 417.20) rotate(-90)" font-size="6.2" font-weight="bold" text-anchor="end" fill="#111">2</text>
<use href="#gC" transform="translate(228.90 414.60) scale(12.600 1.000)" fill="#3038B0"/>
<use href="#gA" transform="translate(228.90 381.30) scale(12.600 33.300)" fill="#CC2218"/>
<text class="m" transform="translate(237.44 417.20) rotate(-90)" font-size="6.2" font-weight="bold" text-anchor="end" fill="#111">3</text>
<use href="#gA" transform="translate(242.60 371.20) scale(12.600 44.200)" fill="#CC2218"/>
<text class="m" transform="translate(251.14 417.20) rotate(-90)" font-size="6.2" font-weight="bold" text-anchor="end" fill="#111">4</text>
<use href="#gT" transform="translate(256.30 371.20) scale(12.600 44.200)" fill="#0A8212"/>
<text class="m" transform="translate(264.84 417.20) rotate(-90)" font-size="6.2" font-weight="bold" text-anchor="end" fill="#111">5</text>
<use href="#gC" transform="translate(270.00 414.60) scale(12.600 1.000)" fill="#3038B0"/>
<use href="#gG" transform="translate(270.00 378.20) scale(12.600 36.400)" fill="#F5AA23"/>
<text class="m" transform="translate(278.54 417.20) rotate(-90)" font-size="6.2" font-weight="bold" text-anchor="end" fill="#111">6</text>
<use href="#gA" transform="translate(283.70 414.30) scale(12.600 1.300)" fill="#CC2218"/>
<use href="#gT" transform="translate(283.70 413.30) scale(12.600 1.000)" fill="#0A8212"/>
<use href="#gG" transform="translate(283.70 389.20) scale(12.600 24.100)" fill="#F5AA23"/>
<text class="m" transform="translate(292.24 417.20) rotate(-90)" font-size="6.2" font-weight="bold" text-anchor="end" fill="#111">7</text>
<use href="#gG" transform="translate(297.40 413.30) scale(12.600 2.300)" fill="#F5AA23"/>
<use href="#gA" transform="translate(297.40 410.90) scale(12.600 2.400)" fill="#CC2218"/>
<use href="#gC" transform="translate(297.40 394.60) scale(12.600 16.300)" fill="#3038B0"/>
<text class="m" transform="translate(305.94 417.20) rotate(-90)" font-size="6.2" font-weight="bold" text-anchor="end" fill="#111">8</text>
<use href="#gC" transform="translate(311.10 414.00) scale(12.600 1.600)" fill="#3038B0"/>
<use href="#gG" transform="translate(311.10 412.00) scale(12.600 2.000)" fill="#F5AA23"/>
<use href="#gT" transform="translate(311.10 409.30) scale(12.600 2.700)" fill="#0A8212"/>
<use href="#gA" transform="translate(311.10 397.60) scale(12.600 11.700)" fill="#CC2218"/>
<text class="m" transform="translate(319.64 417.20) rotate(-90)" font-size="6.2" font-weight="bold" text-anchor="end" fill="#111">9</text>
<line x1="199.50" y1="457.20" x2="199.50" y2="496.70" stroke="#222" stroke-width="1.00"/>
<line x1="197.30" y1="457.20" x2="199.50" y2="457.20" stroke="#222" stroke-width="1.00"/>
<text class="n" x="196.70" y="459.18" font-size="5.5" font-weight="bold" text-anchor="end" fill="#222">2</text>
<line x1="197.30" y1="476.95" x2="199.50" y2="476.95" stroke="#222" stroke-width="1.00"/>
<text class="n" x="196.70" y="478.93" font-size="5.5" font-weight="bold" text-anchor="end" fill="#222">1</text>
<line x1="197.30" y1="496.70" x2="199.50" y2="496.70" stroke="#222" stroke-width="1.00"/>
<text class="n" x="196.70" y="498.68" font-size="5.5" font-weight="bold" text-anchor="end" fill="#222">0</text>
<text class="n" transform="translate(192.50 476.95) rotate(-90)" font-size="5.5" font-weight="bold" text-anchor="middle" fill="#222">bits</text>
<use href="#gT" transform="translate(200.60 495.00) scale(10.200 1.700)" fill="#0A8212"/>
<use href="#gA" transform="translate(200.60 490.90) scale(10.200 4.100)" fill="#CC2218"/>
<use href="#gG" transform="translate(200.60 486.80) scale(10.200 4.100)" fill="#F5AA23"/>
<text class="m" transform="translate(207.60 498.30) rotate(-90)" font-size="5.3" font-weight="bold" text-anchor="end" fill="#111">1</text>
<use href="#gC" transform="translate(212.10 495.80) scale(10.200 0.900)" fill="#3038B0"/>
<use href="#gG" transform="translate(212.10 493.40) scale(10.200 2.400)" fill="#F5AA23"/>
<use href="#gA" transform="translate(212.10 469.30) scale(10.200 24.100)" fill="#CC2218"/>
<text class="m" transform="translate(219.10 498.30) rotate(-90)" font-size="5.3" font-weight="bold" text-anchor="end" fill="#111">2</text>
<use href="#gT" transform="translate(223.60 495.90) scale(10.200 0.800)" fill="#0A8212"/>
<use href="#gG" transform="translate(223.60 463.40) scale(10.200 32.500)" fill="#F5AA23"/>
<text class="m" transform="translate(230.60 498.30) rotate(-90)" font-size="5.3" font-weight="bold" text-anchor="end" fill="#111">3</text>
<use href="#gC" transform="translate(235.10 495.90) scale(10.200 0.800)" fill="#3038B0"/>
<use href="#gG" transform="translate(235.10 492.00) scale(10.200 3.900)" fill="#F5AA23"/>
<use href="#gA" transform="translate(235.10 481.00) scale(10.200 11.000)" fill="#CC2218"/>
<text class="m" transform="translate(242.10 498.30) rotate(-90)" font-size="5.3" font-weight="bold" text-anchor="end" fill="#111">4</text>
<use href="#gT" transform="translate(246.60 495.90) scale(10.200 0.800)" fill="#0A8212"/>
<use href="#gG" transform="translate(246.60 492.00) scale(10.200 3.900)" fill="#F5AA23"/>
<use href="#gA" transform="translate(246.60 481.00) scale(10.200 11.000)" fill="#CC2218"/>
<text class="m" transform="translate(253.60 498.30) rotate(-90)" font-size="5.3" font-weight="bold" text-anchor="end" fill="#111">5</text>
<use href="#gT" transform="translate(258.10 495.90) scale(10.200 0.800)" fill="#0A8212"/>
<use href="#gG" transform="translate(258.10 491.50) scale(10.200 4.400)" fill="#F5AA23"/>
<use href="#gA" transform="translate(258.10 483.00) scale(10.200 8.500)" fill="#CC2218"/>
<text class="m" transform="translate(265.10 498.30) rotate(-90)" font-size="5.3" font-weight="bold" text-anchor="end" fill="#111">6</text>
<use href="#gA" transform="translate(269.60 490.20) scale(10.200 6.200)" fill="#CC2218"/>
<use href="#gG" transform="translate(269.60 479.50) scale(10.200 10.700)" fill="#F5AA23"/>
<text class="m" transform="translate(276.60 498.30) rotate(-90)" font-size="5.3" font-weight="bold" text-anchor="end" fill="#111">7</text>
<use href="#gC" transform="translate(281.10 494.90) scale(10.200 1.800)" fill="#3038B0"/>
<use href="#gA" transform="translate(281.10 465.70) scale(10.200 29.200)" fill="#CC2218"/>
<text class="m" transform="translate(288.10 498.30) rotate(-90)" font-size="5.3" font-weight="bold" text-anchor="end" fill="#111">8</text>
<use href="#gT" transform="translate(292.60 495.20) scale(10.200 1.500)" fill="#0A8212"/>
<use href="#gA" transform="translate(292.60 491.90) scale(10.200 3.300)" fill="#CC2218"/>
<use href="#gG" transform="translate(292.60 485.50) scale(10.200 6.400)" fill="#F5AA23"/>
<text class="m" transform="translate(299.60 498.30) rotate(-90)" font-size="5.3" font-weight="bold" text-anchor="end" fill="#111">9</text>
<use href="#gG" transform="translate(304.10 490.20) scale(10.200 6.200)" fill="#F5AA23"/>
<use href="#gA" transform="translate(304.10 477.80) scale(10.200 12.400)" fill="#CC2218"/>
<text class="m" transform="translate(311.10 498.30) rotate(-90)" font-size="5.3" font-weight="bold" text-anchor="end" fill="#111">10</text>
<use href="#gG" transform="translate(315.60 490.20) scale(10.200 6.200)" fill="#F5AA23"/>
<use href="#gA" transform="translate(315.60 477.40) scale(10.200 12.800)" fill="#CC2218"/>
<text class="m" transform="translate(322.60 498.30) rotate(-90)" font-size="5.3" font-weight="bold" text-anchor="end" fill="#111">11</text>
<use href="#gC" transform="translate(327.10 495.50) scale(10.200 1.200)" fill="#3038B0"/>
<use href="#gG" transform="translate(327.10 491.90) scale(10.200 3.600)" fill="#F5AA23"/>
<use href="#gA" transform="translate(327.10 484.40) scale(10.200 7.500)" fill="#CC2218"/>
<text class="m" transform="translate(334.10 498.30) rotate(-90)" font-size="5.3" font-weight="bold" text-anchor="end" fill="#111">12</text>
<line x1="200.50" y1="544.00" x2="200.50" y2="591.20" stroke="#222" stroke-width="1.00"/>
<line x1="198.30" y1="544.00" x2="200.50" y2="544.00" stroke="#222" stroke-width="1.00"/>
<text class="n" x="197.70" y="546.37" font-size="6.6" font-weight="bold" text-anchor="end" fill="#222">2</text>
<line x1="198.30" y1="567.60" x2="200.50" y2="567.60" stroke="#222" stroke-width="1.00"/>
<text class="n" x="197.70" y="569.97" font-size="6.6" font-weight="bold" text-anchor="end" fill="#222">1</text>
<line x1="198.30" y1="591.20" x2="200.50" y2="591.20" stroke="#222" stroke-width="1.00"/>
<text class="n" x="197.70" y="593.57" font-size="6.6" font-weight="bold" text-anchor="end" fill="#222">0</text>
<text class="n" transform="translate(193.10 567.60) rotate(-90)" font-size="6.6" font-weight="bold" text-anchor="middle" fill="#222">bits</text>
<use href="#gC" transform="translate(201.50 584.90) scale(12.600 6.100)" fill="#3038B0"/>
<use href="#gA" transform="translate(201.50 561.10) scale(12.600 23.800)" fill="#CC2218"/>
<text class="m" transform="translate(210.07 592.80) rotate(-90)" font-size="6.3" font-weight="bold" text-anchor="end" fill="#111">1</text>
<use href="#gA" transform="translate(215.12 545.20) scale(12.600 45.800)" fill="#CC2218"/>
<text class="m" transform="translate(223.69 592.80) rotate(-90)" font-size="6.3" font-weight="bold" text-anchor="end" fill="#111">2</text>
<use href="#gG" transform="translate(228.74 586.00) scale(12.600 5.000)" fill="#F5AA23"/>
<use href="#gA" transform="translate(228.74 567.40) scale(12.600 18.600)" fill="#CC2218"/>
<text class="m" transform="translate(237.31 592.80) rotate(-90)" font-size="6.3" font-weight="bold" text-anchor="end" fill="#111">3</text>
<use href="#gC" transform="translate(242.36 585.00) scale(12.600 6.000)" fill="#3038B0"/>
<use href="#gA" transform="translate(242.36 563.90) scale(12.600 21.100)" fill="#CC2218"/>
<text class="m" transform="translate(250.93 592.80) rotate(-90)" font-size="6.3" font-weight="bold" text-anchor="end" fill="#111">4</text>
<use href="#gT" transform="translate(255.98 585.00) scale(12.600 6.000)" fill="#0A8212"/>
<use href="#gA" transform="translate(255.98 563.20) scale(12.600 21.800)" fill="#CC2218"/>
<text class="m" transform="translate(264.55 592.80) rotate(-90)" font-size="6.3" font-weight="bold" text-anchor="end" fill="#111">5</text>
<use href="#gC" transform="translate(269.60 586.00) scale(12.600 5.000)" fill="#3038B0"/>
<use href="#gA" transform="translate(269.60 566.90) scale(12.600 19.100)" fill="#CC2218"/>
<text class="m" transform="translate(278.17 592.80) rotate(-90)" font-size="6.3" font-weight="bold" text-anchor="end" fill="#111">6</text>
<use href="#gC" transform="translate(283.22 586.00) scale(12.600 5.000)" fill="#3038B0"/>
<use href="#gA" transform="translate(283.22 566.20) scale(12.600 19.800)" fill="#CC2218"/>
<text class="m" transform="translate(291.79 592.80) rotate(-90)" font-size="6.3" font-weight="bold" text-anchor="end" fill="#111">7</text>
<use href="#gA" transform="translate(296.84 545.20) scale(12.600 45.800)" fill="#CC2218"/>
<text class="m" transform="translate(305.41 592.80) rotate(-90)" font-size="6.3" font-weight="bold" text-anchor="end" fill="#111">8</text>
<use href="#gA" transform="translate(310.46 545.20) scale(12.600 45.800)" fill="#CC2218"/>
<text class="m" transform="translate(319.03 592.80) rotate(-90)" font-size="6.3" font-weight="bold" text-anchor="end" fill="#111">9</text>
<use href="#gA" transform="translate(324.08 545.20) scale(12.600 45.800)" fill="#CC2218"/>
<text class="m" transform="translate(332.65 592.80) rotate(-90)" font-size="6.3" font-weight="bold" text-anchor="end" fill="#111">10</text>
<line x1="197.50" y1="641.60" x2="197.50" y2="685.40" stroke="#222" stroke-width="1.00"/>
<line x1="195.30" y1="641.60" x2="197.50" y2="641.60" stroke="#222" stroke-width="1.00"/>
<text class="n" x="194.70" y="643.80" font-size="6.1" font-weight="bold" text-anchor="end" fill="#222">2</text>
<line x1="195.30" y1="663.50" x2="197.50" y2="663.50" stroke="#222" stroke-width="1.00"/>
<text class="n" x="194.70" y="665.70" font-size="6.1" font-weight="bold" text-anchor="end" fill="#222">1</text>
<line x1="195.30" y1="685.40" x2="197.50" y2="685.40" stroke="#222" stroke-width="1.00"/>
<text class="n" x="194.70" y="687.60" font-size="6.1" font-weight="bold" text-anchor="end" fill="#222">0</text>
<text class="n" transform="translate(190.30 663.50) rotate(-90)" font-size="6.1" font-weight="bold" text-anchor="middle" fill="#222">bits</text>
<use href="#gA" transform="translate(223.90 684.30) scale(11.600 1.100)" fill="#CC2218"/>
<use href="#gT" transform="translate(223.90 679.90) scale(11.600 4.400)" fill="#0A8212"/>
<use href="#gC" transform="translate(223.90 674.90) scale(11.600 5.000)" fill="#3038B0"/>
<text class="m" transform="translate(231.80 687.00) rotate(-90)" font-size="5.8" font-weight="bold" text-anchor="end" fill="#111">1</text>
<use href="#gA" transform="translate(236.40 684.40) scale(11.600 1.000)" fill="#CC2218"/>
<use href="#gC" transform="translate(236.40 683.00) scale(11.600 1.400)" fill="#3038B0"/>
<use href="#gT" transform="translate(236.40 679.90) scale(11.600 3.100)" fill="#0A8212"/>
<text class="m" transform="translate(244.30 687.00) rotate(-90)" font-size="5.8" font-weight="bold" text-anchor="end" fill="#111">2</text>
<use href="#gT" transform="translate(248.90 684.00) scale(11.600 1.400)" fill="#0A8212"/>
<use href="#gC" transform="translate(248.90 682.10) scale(11.600 1.900)" fill="#3038B0"/>
<use href="#gG" transform="translate(248.90 660.80) scale(11.600 21.300)" fill="#F5AA23"/>
<text class="m" transform="translate(256.80 687.00) rotate(-90)" font-size="5.8" font-weight="bold" text-anchor="end" fill="#111">3</text>
<use href="#gC" transform="translate(261.40 649.20) scale(11.600 35.400)" fill="#3038B0"/>
<text class="m" transform="translate(269.30 687.00) rotate(-90)" font-size="5.8" font-weight="bold" text-anchor="end" fill="#111">4</text>
<use href="#gA" transform="translate(273.90 648.60) scale(11.600 36.600)" fill="#CC2218"/>
<text class="m" transform="translate(281.80 687.00) rotate(-90)" font-size="5.8" font-weight="bold" text-anchor="end" fill="#111">5</text>
<use href="#gT" transform="translate(286.40 648.60) scale(11.600 36.600)" fill="#0A8212"/>
<text class="m" transform="translate(294.30 687.00) rotate(-90)" font-size="5.8" font-weight="bold" text-anchor="end" fill="#111">6</text>
<use href="#gA" transform="translate(298.90 684.40) scale(11.600 1.000)" fill="#CC2218"/>
<use href="#gG" transform="translate(298.90 649.90) scale(11.600 34.500)" fill="#F5AA23"/>
<text class="m" transform="translate(306.80 687.00) rotate(-90)" font-size="5.8" font-weight="bold" text-anchor="end" fill="#111">7</text>
<use href="#gA" transform="translate(311.40 684.00) scale(11.600 1.400)" fill="#CC2218"/>
<use href="#gG" transform="translate(311.40 681.00) scale(11.600 3.000)" fill="#F5AA23"/>
<use href="#gC" transform="translate(311.40 661.30) scale(11.600 19.700)" fill="#3038B0"/>
<text class="m" transform="translate(319.30 687.00) rotate(-90)" font-size="5.8" font-weight="bold" text-anchor="end" fill="#111">8</text>
<use href="#gC" transform="translate(323.90 684.40) scale(11.600 1.000)" fill="#3038B0"/>
<use href="#gG" transform="translate(323.90 683.30) scale(11.600 1.100)" fill="#F5AA23"/>
<use href="#gA" transform="translate(323.90 680.50) scale(11.600 2.800)" fill="#CC2218"/>
<text class="m" transform="translate(331.80 687.00) rotate(-90)" font-size="5.8" font-weight="bold" text-anchor="end" fill="#111">9</text>
<line x1="364.50" y1="369.60" x2="364.50" y2="416.80" stroke="#222" stroke-width="1.00"/>
<line x1="362.30" y1="369.60" x2="364.50" y2="369.60" stroke="#222" stroke-width="1.00"/>
<text class="n" x="361.70" y="371.97" font-size="6.6" font-weight="bold" text-anchor="end" fill="#222">2</text>
<line x1="362.30" y1="393.20" x2="364.50" y2="393.20" stroke="#222" stroke-width="1.00"/>
<text class="n" x="361.70" y="395.57" font-size="6.6" font-weight="bold" text-anchor="end" fill="#222">1</text>
<line x1="362.30" y1="416.80" x2="364.50" y2="416.80" stroke="#222" stroke-width="1.00"/>
<text class="n" x="361.70" y="419.17" font-size="6.6" font-weight="bold" text-anchor="end" fill="#222">0</text>
<text class="n" transform="translate(356.34 393.20) rotate(-90)" font-size="6.6" font-weight="bold" text-anchor="middle" fill="#222">bits</text>
<use href="#gC" transform="translate(366.90 415.60) scale(12.800 1.200)" fill="#3038B0"/>
<use href="#gA" transform="translate(366.90 376.60) scale(12.800 39.000)" fill="#CC2218"/>
<text class="m" transform="translate(375.57 418.40) rotate(-90)" font-size="6.3" font-weight="bold" text-anchor="end" fill="#111">1</text>
<use href="#gC" transform="translate(380.57 415.00) scale(12.800 1.800)" fill="#3038B0"/>
<use href="#gT" transform="translate(380.57 410.90) scale(12.800 4.100)" fill="#0A8212"/>
<use href="#gA" transform="translate(380.57 391.10) scale(12.800 19.800)" fill="#CC2218"/>
<text class="m" transform="translate(389.24 418.40) rotate(-90)" font-size="6.3" font-weight="bold" text-anchor="end" fill="#111">2</text>
<use href="#gC" transform="translate(394.24 415.00) scale(12.800 1.800)" fill="#3038B0"/>
<use href="#gT" transform="translate(394.24 410.90) scale(12.800 4.100)" fill="#0A8212"/>
<use href="#gA" transform="translate(394.24 394.60) scale(12.800 16.300)" fill="#CC2218"/>
<text class="m" transform="translate(402.91 418.40) rotate(-90)" font-size="6.3" font-weight="bold" text-anchor="end" fill="#111">3</text>
<use href="#gC" transform="translate(407.91 415.60) scale(12.800 1.200)" fill="#3038B0"/>
<use href="#gA" transform="translate(407.91 383.60) scale(12.800 32.000)" fill="#CC2218"/>
<text class="m" transform="translate(416.58 418.40) rotate(-90)" font-size="6.3" font-weight="bold" text-anchor="end" fill="#111">4</text>
<use href="#gG" transform="translate(421.58 415.20) scale(12.800 1.600)" fill="#F5AA23"/>
<use href="#gT" transform="translate(421.58 412.10) scale(12.800 3.100)" fill="#0A8212"/>
<use href="#gA" transform="translate(421.58 383.60) scale(12.800 28.500)" fill="#CC2218"/>
<text class="m" transform="translate(430.25 418.40) rotate(-90)" font-size="6.3" font-weight="bold" text-anchor="end" fill="#111">5</text>
<use href="#gC" transform="translate(435.25 415.60) scale(12.800 1.200)" fill="#3038B0"/>
<use href="#gA" transform="translate(435.25 414.40) scale(12.800 1.200)" fill="#CC2218"/>
<use href="#gT" transform="translate(435.25 383.60) scale(12.800 29.700)" fill="#0A8212"/>
<text class="m" transform="translate(443.92 418.40) rotate(-90)" font-size="6.3" font-weight="bold" text-anchor="end" fill="#111">6</text>
<use href="#gC" transform="translate(448.92 415.80) scale(12.800 1.000)" fill="#3038B0"/>
<use href="#gG" transform="translate(448.92 376.60) scale(12.800 39.200)" fill="#F5AA23"/>
<text class="m" transform="translate(457.59 418.40) rotate(-90)" font-size="6.3" font-weight="bold" text-anchor="end" fill="#111">7</text>
<use href="#gC" transform="translate(462.59 415.20) scale(12.800 1.600)" fill="#3038B0"/>
<use href="#gT" transform="translate(462.59 413.30) scale(12.800 1.900)" fill="#0A8212"/>
<use href="#gG" transform="translate(462.59 381.70) scale(12.800 31.600)" fill="#F5AA23"/>
<text class="m" transform="translate(471.26 418.40) rotate(-90)" font-size="6.3" font-weight="bold" text-anchor="end" fill="#111">8</text>
<use href="#gC" transform="translate(476.26 415.20) scale(12.800 1.600)" fill="#3038B0"/>
<use href="#gG" transform="translate(476.26 414.00) scale(12.800 1.200)" fill="#F5AA23"/>
<use href="#gT" transform="translate(476.26 412.10) scale(12.800 1.900)" fill="#0A8212"/>
<use href="#gA" transform="translate(476.26 400.90) scale(12.800 11.200)" fill="#CC2218"/>
<text class="m" transform="translate(484.93 418.40) rotate(-90)" font-size="6.3" font-weight="bold" text-anchor="end" fill="#111">9</text>
<line x1="359.50" y1="458.70" x2="359.50" y2="498.40" stroke="#222" stroke-width="1.00"/>
<line x1="357.30" y1="458.70" x2="359.50" y2="458.70" stroke="#222" stroke-width="1.00"/>
<text class="n" x="356.70" y="460.69" font-size="5.5" font-weight="bold" text-anchor="end" fill="#222">2</text>
<line x1="357.30" y1="478.55" x2="359.50" y2="478.55" stroke="#222" stroke-width="1.00"/>
<text class="n" x="356.70" y="480.54" font-size="5.5" font-weight="bold" text-anchor="end" fill="#222">1</text>
<line x1="357.30" y1="498.40" x2="359.50" y2="498.40" stroke="#222" stroke-width="1.00"/>
<text class="n" x="356.70" y="500.39" font-size="5.5" font-weight="bold" text-anchor="end" fill="#222">0</text>
<text class="n" transform="translate(352.50 478.55) rotate(-90)" font-size="5.5" font-weight="bold" text-anchor="middle" fill="#222">bits</text>
<use href="#gA" transform="translate(361.50 493.30) scale(10.200 4.500)" fill="#CC2218"/>
<use href="#gG" transform="translate(361.50 480.20) scale(10.200 13.100)" fill="#F5AA23"/>
<text class="m" transform="translate(368.51 500.00) rotate(-90)" font-size="5.3" font-weight="bold" text-anchor="end" fill="#111">1</text>
<use href="#gT" transform="translate(372.83 495.80) scale(10.200 2.000)" fill="#0A8212"/>
<use href="#gG" transform="translate(372.83 493.70) scale(10.200 2.100)" fill="#F5AA23"/>
<use href="#gA" transform="translate(372.83 474.60) scale(10.200 19.100)" fill="#CC2218"/>
<text class="m" transform="translate(379.84 500.00) rotate(-90)" font-size="5.3" font-weight="bold" text-anchor="end" fill="#111">2</text>
<use href="#gC" transform="translate(384.16 496.50) scale(10.200 1.300)" fill="#3038B0"/>
<use href="#gT" transform="translate(384.16 493.30) scale(10.200 3.200)" fill="#0A8212"/>
<use href="#gG" transform="translate(384.16 473.90) scale(10.200 19.400)" fill="#F5AA23"/>
<text class="m" transform="translate(391.17 500.00) rotate(-90)" font-size="5.3" font-weight="bold" text-anchor="end" fill="#111">3</text>
<use href="#gG" transform="translate(395.49 493.30) scale(10.200 4.500)" fill="#F5AA23"/>
<use href="#gA" transform="translate(395.49 474.60) scale(10.200 18.700)" fill="#CC2218"/>
<text class="m" transform="translate(402.50 500.00) rotate(-90)" font-size="5.3" font-weight="bold" text-anchor="end" fill="#111">4</text>
<use href="#gG" transform="translate(406.82 487.90) scale(10.200 9.100)" fill="#F5AA23"/>
<use href="#gA" transform="translate(406.82 480.90) scale(10.200 7.000)" fill="#CC2218"/>
<text class="m" transform="translate(413.83 500.00) rotate(-90)" font-size="5.3" font-weight="bold" text-anchor="end" fill="#111">5</text>
<use href="#gC" transform="translate(418.15 495.50) scale(10.200 2.300)" fill="#3038B0"/>
<use href="#gG" transform="translate(418.15 493.30) scale(10.200 2.200)" fill="#F5AA23"/>
<use href="#gA" transform="translate(418.15 469.90) scale(10.200 23.400)" fill="#CC2218"/>
<text class="m" transform="translate(425.16 500.00) rotate(-90)" font-size="5.3" font-weight="bold" text-anchor="end" fill="#111">6</text>
<use href="#gC" transform="translate(429.48 496.50) scale(10.200 1.300)" fill="#3038B0"/>
<use href="#gA" transform="translate(429.48 493.30) scale(10.200 3.200)" fill="#CC2218"/>
<use href="#gG" transform="translate(429.48 478.50) scale(10.200 14.800)" fill="#F5AA23"/>
<text class="m" transform="translate(436.49 500.00) rotate(-90)" font-size="5.3" font-weight="bold" text-anchor="end" fill="#111">7</text>
<use href="#gT" transform="translate(440.81 495.60) scale(10.200 2.200)" fill="#0A8212"/>
<use href="#gC" transform="translate(440.81 493.30) scale(10.200 2.300)" fill="#3038B0"/>
<use href="#gA" transform="translate(440.81 469.20) scale(10.200 24.100)" fill="#CC2218"/>
<text class="m" transform="translate(447.82 500.00) rotate(-90)" font-size="5.3" font-weight="bold" text-anchor="end" fill="#111">8</text>
<use href="#gC" transform="translate(452.14 496.60) scale(10.200 1.200)" fill="#3038B0"/>
<use href="#gT" transform="translate(452.14 493.30) scale(10.200 3.300)" fill="#0A8212"/>
<use href="#gG" transform="translate(452.14 469.90) scale(10.200 23.400)" fill="#F5AA23"/>
<text class="m" transform="translate(459.15 500.00) rotate(-90)" font-size="5.3" font-weight="bold" text-anchor="end" fill="#111">9</text>
<use href="#gG" transform="translate(463.47 496.00) scale(10.200 1.800)" fill="#F5AA23"/>
<use href="#gC" transform="translate(463.47 493.30) scale(10.200 2.700)" fill="#3038B0"/>
<use href="#gA" transform="translate(463.47 475.00) scale(10.200 18.300)" fill="#CC2218"/>
<text class="m" transform="translate(470.48 500.00) rotate(-90)" font-size="5.3" font-weight="bold" text-anchor="end" fill="#111">10</text>
<use href="#gC" transform="translate(474.80 496.50) scale(10.200 1.300)" fill="#3038B0"/>
<use href="#gA" transform="translate(474.80 493.30) scale(10.200 3.200)" fill="#CC2218"/>
<use href="#gG" transform="translate(474.80 480.20) scale(10.200 13.100)" fill="#F5AA23"/>
<text class="m" transform="translate(481.81 500.00) rotate(-90)" font-size="5.3" font-weight="bold" text-anchor="end" fill="#111">11</text>
<use href="#gT" transform="translate(486.13 496.50) scale(10.200 1.300)" fill="#0A8212"/>
<use href="#gA" transform="translate(486.13 468.00) scale(10.200 28.500)" fill="#CC2218"/>
<text class="m" transform="translate(493.14 500.00) rotate(-90)" font-size="5.3" font-weight="bold" text-anchor="end" fill="#111">12</text>
<line x1="363.50" y1="545.90" x2="363.50" y2="593.10" stroke="#222" stroke-width="1.00"/>
<line x1="361.30" y1="545.90" x2="363.50" y2="545.90" stroke="#222" stroke-width="1.00"/>
<text class="n" x="360.70" y="548.27" font-size="6.6" font-weight="bold" text-anchor="end" fill="#222">2</text>
<line x1="361.30" y1="569.50" x2="363.50" y2="569.50" stroke="#222" stroke-width="1.00"/>
<text class="n" x="360.70" y="571.87" font-size="6.6" font-weight="bold" text-anchor="end" fill="#222">1</text>
<line x1="361.30" y1="593.10" x2="363.50" y2="593.10" stroke="#222" stroke-width="1.00"/>
<text class="n" x="360.70" y="595.47" font-size="6.6" font-weight="bold" text-anchor="end" fill="#222">0</text>
<text class="n" transform="translate(355.34 569.50) rotate(-90)" font-size="6.6" font-weight="bold" text-anchor="middle" fill="#222">bits</text>
<use href="#gA" transform="translate(365.50 546.80) scale(12.600 46.200)" fill="#CC2218"/>
<text class="m" transform="translate(374.07 594.70) rotate(-90)" font-size="6.3" font-weight="bold" text-anchor="end" fill="#111">1</text>
<use href="#gT" transform="translate(379.20 590.60) scale(12.600 2.400)" fill="#0A8212"/>
<use href="#gC" transform="translate(379.20 588.60) scale(12.600 2.000)" fill="#3038B0"/>
<use href="#gG" transform="translate(379.20 586.10) scale(12.600 2.500)" fill="#F5AA23"/>
<use href="#gA" transform="translate(379.20 574.40) scale(12.600 11.700)" fill="#CC2218"/>
<text class="m" transform="translate(387.77 594.70) rotate(-90)" font-size="6.3" font-weight="bold" text-anchor="end" fill="#111">2</text>
<use href="#gC" transform="translate(392.90 591.50) scale(12.600 1.500)" fill="#3038B0"/>
<use href="#gT" transform="translate(392.90 589.70) scale(12.600 1.800)" fill="#0A8212"/>
<use href="#gG" transform="translate(392.90 587.90) scale(12.600 1.800)" fill="#F5AA23"/>
<use href="#gA" transform="translate(392.90 576.30) scale(12.600 11.600)" fill="#CC2218"/>
<text class="m" transform="translate(401.47 594.70) rotate(-90)" font-size="6.3" font-weight="bold" text-anchor="end" fill="#111">3</text>
<use href="#gA" transform="translate(406.60 546.80) scale(12.600 46.200)" fill="#CC2218"/>
<text class="m" transform="translate(415.17 594.70) rotate(-90)" font-size="6.3" font-weight="bold" text-anchor="end" fill="#111">4</text>
<use href="#gG" transform="translate(420.30 592.00) scale(12.600 1.000)" fill="#F5AA23"/>
<use href="#gC" transform="translate(420.30 586.50) scale(12.600 5.500)" fill="#3038B0"/>
<use href="#gA" transform="translate(420.30 572.00) scale(12.600 14.500)" fill="#CC2218"/>
<text class="m" transform="translate(428.87 594.70) rotate(-90)" font-size="6.3" font-weight="bold" text-anchor="end" fill="#111">5</text>
<use href="#gC" transform="translate(434.00 586.50) scale(12.600 6.500)" fill="#3038B0"/>
<use href="#gA" transform="translate(434.00 564.60) scale(12.600 21.900)" fill="#CC2218"/>
<text class="m" transform="translate(442.57 594.70) rotate(-90)" font-size="6.3" font-weight="bold" text-anchor="end" fill="#111">6</text>
<use href="#gT" transform="translate(447.70 591.80) scale(12.600 1.200)" fill="#0A8212"/>
<use href="#gC" transform="translate(447.70 586.10) scale(12.600 5.700)" fill="#3038B0"/>
<use href="#gA" transform="translate(447.70 577.20) scale(12.600 8.900)" fill="#CC2218"/>
<text class="m" transform="translate(456.27 594.70) rotate(-90)" font-size="6.3" font-weight="bold" text-anchor="end" fill="#111">7</text>
<use href="#gA" transform="translate(461.40 546.80) scale(12.600 46.200)" fill="#CC2218"/>
<text class="m" transform="translate(469.97 594.70) rotate(-90)" font-size="6.3" font-weight="bold" text-anchor="end" fill="#111">8</text>
<use href="#gA" transform="translate(475.10 546.80) scale(12.600 46.200)" fill="#CC2218"/>
<text class="m" transform="translate(483.67 594.70) rotate(-90)" font-size="6.3" font-weight="bold" text-anchor="end" fill="#111">9</text>
<use href="#gA" transform="translate(488.80 546.80) scale(12.600 46.200)" fill="#CC2218"/>
<text class="m" transform="translate(497.37 594.70) rotate(-90)" font-size="6.3" font-weight="bold" text-anchor="end" fill="#111">10</text>
<line x1="363.50" y1="639.20" x2="363.50" y2="686.60" stroke="#222" stroke-width="1.00"/>
<line x1="361.30" y1="639.20" x2="363.50" y2="639.20" stroke="#222" stroke-width="1.00"/>
<text class="n" x="360.70" y="641.58" font-size="6.6" font-weight="bold" text-anchor="end" fill="#222">2</text>
<line x1="361.30" y1="662.90" x2="363.50" y2="662.90" stroke="#222" stroke-width="1.00"/>
<text class="n" x="360.70" y="665.28" font-size="6.6" font-weight="bold" text-anchor="end" fill="#222">1</text>
<line x1="361.30" y1="686.60" x2="363.50" y2="686.60" stroke="#222" stroke-width="1.00"/>
<text class="n" x="360.70" y="688.98" font-size="6.6" font-weight="bold" text-anchor="end" fill="#222">0</text>
<text class="n" transform="translate(355.30 662.90) rotate(-90)" font-size="6.6" font-weight="bold" text-anchor="middle" fill="#222">bits</text>
<use href="#gA" transform="translate(366.20 685.40) scale(12.300 1.200)" fill="#CC2218"/>
<use href="#gT" transform="translate(366.20 681.20) scale(12.300 4.200)" fill="#0A8212"/>
<use href="#gC" transform="translate(366.20 675.50) scale(12.300 5.700)" fill="#3038B0"/>
<text class="m" transform="translate(374.63 688.20) rotate(-90)" font-size="6.3" font-weight="bold" text-anchor="end" fill="#111">1</text>
<use href="#gA" transform="translate(379.75 685.60) scale(12.300 1.000)" fill="#CC2218"/>
<use href="#gC" transform="translate(379.75 684.10) scale(12.300 1.500)" fill="#3038B0"/>
<use href="#gT" transform="translate(379.75 681.00) scale(12.300 3.100)" fill="#0A8212"/>
<text class="m" transform="translate(388.18 688.20) rotate(-90)" font-size="6.3" font-weight="bold" text-anchor="end" fill="#111">2</text>
<use href="#gT" transform="translate(393.30 685.10) scale(12.300 1.500)" fill="#0A8212"/>
<use href="#gC" transform="translate(393.30 682.20) scale(12.300 2.900)" fill="#3038B0"/>
<use href="#gG" transform="translate(393.30 660.50) scale(12.300 21.700)" fill="#F5AA23"/>
<text class="m" transform="translate(401.73 688.20) rotate(-90)" font-size="6.3" font-weight="bold" text-anchor="end" fill="#111">3</text>
<use href="#gC" transform="translate(406.85 647.50) scale(12.300 38.200)" fill="#3038B0"/>
<text class="m" transform="translate(415.28 688.20) rotate(-90)" font-size="6.3" font-weight="bold" text-anchor="end" fill="#111">4</text>
<use href="#gA" transform="translate(420.40 647.50) scale(12.300 39.100)" fill="#CC2218"/>
<text class="m" transform="translate(428.83 688.20) rotate(-90)" font-size="6.3" font-weight="bold" text-anchor="end" fill="#111">5</text>
<use href="#gT" transform="translate(433.95 647.50) scale(12.300 39.100)" fill="#0A8212"/>
<text class="m" transform="translate(442.38 688.20) rotate(-90)" font-size="6.3" font-weight="bold" text-anchor="end" fill="#111">6</text>
<use href="#gA" transform="translate(447.50 685.70) scale(12.300 0.900)" fill="#CC2218"/>
<use href="#gG" transform="translate(447.50 648.20) scale(12.300 37.500)" fill="#F5AA23"/>
<text class="m" transform="translate(455.93 688.20) rotate(-90)" font-size="6.3" font-weight="bold" text-anchor="end" fill="#111">7</text>
<use href="#gA" transform="translate(461.05 685.30) scale(12.300 1.300)" fill="#CC2218"/>
<use href="#gG" transform="translate(461.05 683.00) scale(12.300 2.300)" fill="#F5AA23"/>
<use href="#gC" transform="translate(461.05 661.10) scale(12.300 21.900)" fill="#3038B0"/>
<text class="m" transform="translate(469.48 688.20) rotate(-90)" font-size="6.3" font-weight="bold" text-anchor="end" fill="#111">8</text>
<use href="#gC" transform="translate(474.60 685.60) scale(12.300 1.000)" fill="#3038B0"/>
<use href="#gG" transform="translate(474.60 684.40) scale(12.300 1.200)" fill="#F5AA23"/>
<use href="#gA" transform="translate(474.60 681.80) scale(12.300 2.600)" fill="#CC2218"/>
<text class="m" transform="translate(483.03 688.20) rotate(-90)" font-size="6.3" font-weight="bold" text-anchor="end" fill="#111">9</text>
<line x1="532.50" y1="368.90" x2="532.50" y2="418.00" stroke="#8C8C88" stroke-width="1.00"/>
<line x1="531.00" y1="368.90" x2="532.50" y2="368.90" stroke="#8C8C88" stroke-width="1.00"/>
<text class="n" x="530.40" y="370.34" font-size="4.0" font-weight="bold" text-anchor="end" fill="#444">2</text>
<line x1="531.00" y1="393.45" x2="532.50" y2="393.45" stroke="#8C8C88" stroke-width="1.00"/>
<text class="n" x="530.40" y="394.89" font-size="4.0" font-weight="bold" text-anchor="end" fill="#444">1</text>
<line x1="531.00" y1="418.00" x2="532.50" y2="418.00" stroke="#8C8C88" stroke-width="1.00"/>
<text class="n" x="530.40" y="419.44" font-size="4.0" font-weight="bold" text-anchor="end" fill="#444">0</text>
<text class="n" transform="translate(527.90 393.45) rotate(-90)" font-size="4.0" font-weight="bold" text-anchor="middle" fill="#333">bits</text>
<use href="#gC" transform="translate(533.60 370.10) scale(8.300 47.600)" fill="#3038B0"/>
<text class="n" transform="translate(538.83 419.60) rotate(-90)" font-size="3.0" font-weight="bold" text-anchor="end" fill="#888">1</text>
<use href="#gA" transform="translate(542.32 370.10) scale(8.300 47.600)" fill="#CC2218"/>
<text class="n" transform="translate(547.55 419.60) rotate(-90)" font-size="3.0" font-weight="bold" text-anchor="end" fill="#888">2</text>
<use href="#gC" transform="translate(551.04 370.10) scale(8.300 47.600)" fill="#3038B0"/>
<text class="n" transform="translate(556.27 419.60) rotate(-90)" font-size="3.0" font-weight="bold" text-anchor="end" fill="#888">3</text>
<use href="#gG" transform="translate(559.76 370.10) scale(8.300 47.600)" fill="#F5AA23"/>
<text class="n" transform="translate(564.99 419.60) rotate(-90)" font-size="3.0" font-weight="bold" text-anchor="end" fill="#888">4</text>
<use href="#gT" transform="translate(568.48 370.10) scale(8.300 47.600)" fill="#0A8212"/>
<text class="n" transform="translate(573.71 419.60) rotate(-90)" font-size="3.0" font-weight="bold" text-anchor="end" fill="#888">5</text>
<use href="#gG" transform="translate(577.20 370.10) scale(8.300 47.600)" fill="#F5AA23"/>
<text class="n" transform="translate(582.43 419.60) rotate(-90)" font-size="3.0" font-weight="bold" text-anchor="end" fill="#888">6</text>
<line x1="531.50" y1="463.60" x2="531.50" y2="511.90" stroke="#8C8C88" stroke-width="1.00"/>
<line x1="530.00" y1="463.60" x2="531.50" y2="463.60" stroke="#8C8C88" stroke-width="1.00"/>
<text class="n" x="529.40" y="465.04" font-size="4.0" font-weight="bold" text-anchor="end" fill="#444">2</text>
<line x1="530.00" y1="487.75" x2="531.50" y2="487.75" stroke="#8C8C88" stroke-width="1.00"/>
<text class="n" x="529.40" y="489.19" font-size="4.0" font-weight="bold" text-anchor="end" fill="#444">1</text>
<line x1="530.00" y1="511.90" x2="531.50" y2="511.90" stroke="#8C8C88" stroke-width="1.00"/>
<text class="n" x="529.40" y="513.34" font-size="4.0" font-weight="bold" text-anchor="end" fill="#444">0</text>
<text class="n" transform="translate(526.90 487.75) rotate(-90)" font-size="4.0" font-weight="bold" text-anchor="middle" fill="#333">bits</text>
<use href="#gA" transform="translate(532.00 464.80) scale(8.000 46.800)" fill="#CC2218"/>
<text class="n" transform="translate(537.08 513.50) rotate(-90)" font-size="3.0" font-weight="bold" text-anchor="end" fill="#888">1</text>
<use href="#gG" transform="translate(540.38 464.80) scale(8.000 46.800)" fill="#F5AA23"/>
<text class="n" transform="translate(545.46 513.50) rotate(-90)" font-size="3.0" font-weight="bold" text-anchor="end" fill="#888">2</text>
<use href="#gA" transform="translate(548.76 464.80) scale(8.000 46.800)" fill="#CC2218"/>
<text class="n" transform="translate(553.84 513.50) rotate(-90)" font-size="3.0" font-weight="bold" text-anchor="end" fill="#888">3</text>
<use href="#gG" transform="translate(557.14 464.80) scale(8.000 46.800)" fill="#F5AA23"/>
<text class="n" transform="translate(562.22 513.50) rotate(-90)" font-size="3.0" font-weight="bold" text-anchor="end" fill="#888">4</text>
<use href="#gA" transform="translate(565.52 464.80) scale(8.000 46.800)" fill="#CC2218"/>
<text class="n" transform="translate(570.60 513.50) rotate(-90)" font-size="3.0" font-weight="bold" text-anchor="end" fill="#888">5</text>
<use href="#gG" transform="translate(573.90 464.80) scale(8.000 46.800)" fill="#F5AA23"/>
<text class="n" transform="translate(578.98 513.50) rotate(-90)" font-size="3.0" font-weight="bold" text-anchor="end" fill="#888">6</text>
<use href="#gA" transform="translate(582.28 464.80) scale(8.000 46.800)" fill="#CC2218"/>
<text class="n" transform="translate(587.36 513.50) rotate(-90)" font-size="3.0" font-weight="bold" text-anchor="end" fill="#888">7</text>
<use href="#gG" transform="translate(590.66 464.80) scale(8.000 46.800)" fill="#F5AA23"/>
<text class="n" transform="translate(595.74 513.50) rotate(-90)" font-size="3.0" font-weight="bold" text-anchor="end" fill="#888">8</text>
<line x1="532.50" y1="547.20" x2="532.50" y2="595.30" stroke="#8C8C88" stroke-width="1.00"/>
<line x1="531.00" y1="547.20" x2="532.50" y2="547.20" stroke="#8C8C88" stroke-width="1.00"/>
<text class="n" x="530.40" y="548.64" font-size="4.0" font-weight="bold" text-anchor="end" fill="#444">2</text>
<line x1="531.00" y1="571.25" x2="532.50" y2="571.25" stroke="#8C8C88" stroke-width="1.00"/>
<text class="n" x="530.40" y="572.69" font-size="4.0" font-weight="bold" text-anchor="end" fill="#444">1</text>
<line x1="531.00" y1="595.30" x2="532.50" y2="595.30" stroke="#8C8C88" stroke-width="1.00"/>
<text class="n" x="530.40" y="596.74" font-size="4.0" font-weight="bold" text-anchor="end" fill="#444">0</text>
<text class="n" transform="translate(527.90 571.25) rotate(-90)" font-size="4.0" font-weight="bold" text-anchor="middle" fill="#333">bits</text>
<use href="#gC" transform="translate(535.20 548.40) scale(8.200 46.600)" fill="#3038B0"/>
<text class="n" transform="translate(540.38 596.90) rotate(-90)" font-size="3.0" font-weight="bold" text-anchor="end" fill="#888">1</text>
<use href="#gA" transform="translate(543.77 548.40) scale(8.200 46.600)" fill="#CC2218"/>
<text class="n" transform="translate(548.95 596.90) rotate(-90)" font-size="3.0" font-weight="bold" text-anchor="end" fill="#888">2</text>
<use href="#gC" transform="translate(552.34 548.40) scale(8.200 46.600)" fill="#3038B0"/>
<text class="n" transform="translate(557.52 596.90) rotate(-90)" font-size="3.0" font-weight="bold" text-anchor="end" fill="#888">3</text>
<use href="#gG" transform="translate(560.91 548.40) scale(8.200 46.600)" fill="#F5AA23"/>
<text class="n" transform="translate(566.09 596.90) rotate(-90)" font-size="3.0" font-weight="bold" text-anchor="end" fill="#888">4</text>
<use href="#gT" transform="translate(569.48 548.40) scale(8.200 46.600)" fill="#0A8212"/>
<text class="n" transform="translate(574.66 596.90) rotate(-90)" font-size="3.0" font-weight="bold" text-anchor="end" fill="#888">5</text>
<use href="#gG" transform="translate(578.05 548.40) scale(8.200 46.600)" fill="#F5AA23"/>
<text class="n" transform="translate(583.23 596.90) rotate(-90)" font-size="3.0" font-weight="bold" text-anchor="end" fill="#888">6</text>
<line x1="532.50" y1="640.20" x2="532.50" y2="688.30" stroke="#8C8C88" stroke-width="1.00"/>
<line x1="531.00" y1="640.20" x2="532.50" y2="640.20" stroke="#8C8C88" stroke-width="1.00"/>
<text class="n" x="530.40" y="641.64" font-size="4.0" font-weight="bold" text-anchor="end" fill="#444">2</text>
<line x1="531.00" y1="664.25" x2="532.50" y2="664.25" stroke="#8C8C88" stroke-width="1.00"/>
<text class="n" x="530.40" y="665.69" font-size="4.0" font-weight="bold" text-anchor="end" fill="#444">1</text>
<line x1="531.00" y1="688.30" x2="532.50" y2="688.30" stroke="#8C8C88" stroke-width="1.00"/>
<text class="n" x="530.40" y="689.74" font-size="4.0" font-weight="bold" text-anchor="end" fill="#444">0</text>
<text class="n" transform="translate(527.90 664.25) rotate(-90)" font-size="4.0" font-weight="bold" text-anchor="middle" fill="#333">bits</text>
<use href="#gC" transform="translate(535.20 641.40) scale(8.000 46.600)" fill="#3038B0"/>
<text class="n" transform="translate(540.28 689.90) rotate(-90)" font-size="3.0" font-weight="bold" text-anchor="end" fill="#888">1</text>
<use href="#gC" transform="translate(543.60 641.40) scale(8.000 46.600)" fill="#3038B0"/>
<text class="n" transform="translate(548.68 689.90) rotate(-90)" font-size="3.0" font-weight="bold" text-anchor="end" fill="#888">2</text>
<use href="#gA" transform="translate(552.00 641.40) scale(8.000 46.600)" fill="#CC2218"/>
<text class="n" transform="translate(557.08 689.90) rotate(-90)" font-size="3.0" font-weight="bold" text-anchor="end" fill="#888">3</text>
<use href="#gA" transform="translate(560.40 641.40) scale(8.000 46.600)" fill="#CC2218"/>
<text class="n" transform="translate(565.48 689.90) rotate(-90)" font-size="3.0" font-weight="bold" text-anchor="end" fill="#888">4</text>
<use href="#gT" transform="translate(568.80 641.40) scale(8.000 46.600)" fill="#0A8212"/>
<text class="n" transform="translate(573.88 689.90) rotate(-90)" font-size="3.0" font-weight="bold" text-anchor="end" fill="#888">5</text>
</svg></body></html>
